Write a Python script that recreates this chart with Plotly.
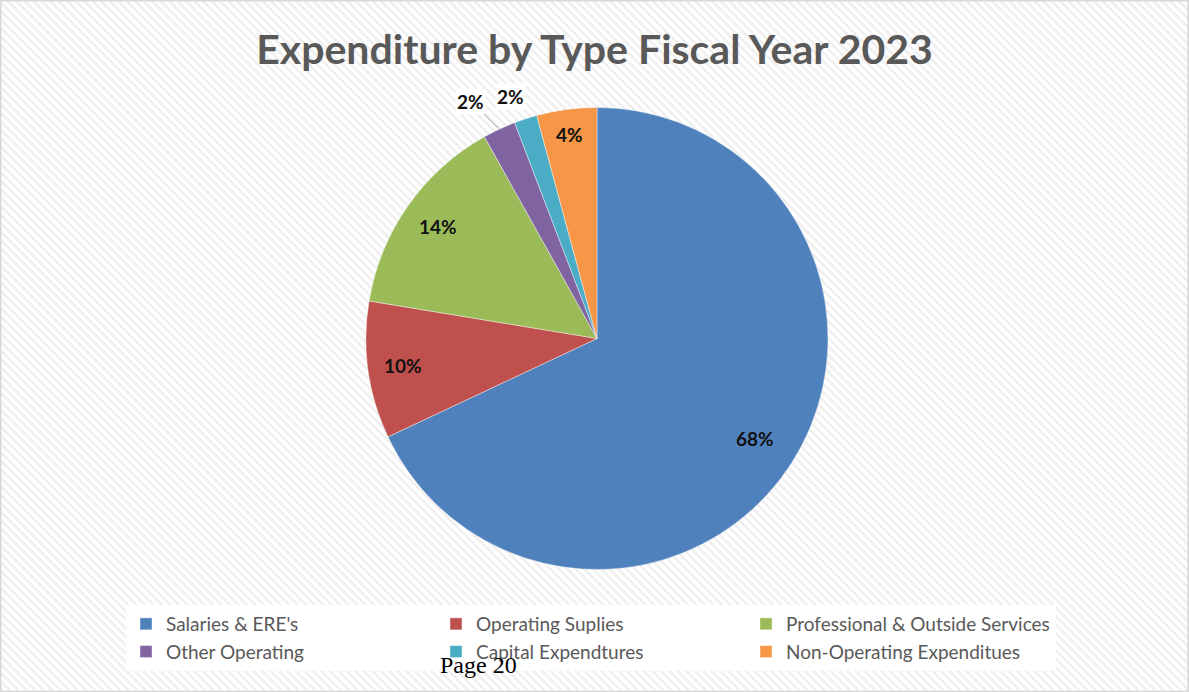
import base64, math
import plotly.graph_objects as go

# ---- data ----
categories = ["Salaries & ERE's", "Operating Suplies", "Professional & Outside Services",
              "Other Operating", "Capital Expendtures", "Non-Operating Expenditues"]
shares = [68.0, 9.6, 14.3, 2.3, 1.6, 4.2]
colors = ["#4F81BD", "#C0504D", "#9BBB59", "#8064A2", "#4BACC6", "#F79646"]
title_text = "Expenditure by Type Fiscal Year 2023"
footer_text = "Page 20"

# ---- layout geometry (pixels) ----
W, H = 1189, 692
cx, cy, R = 597, 338.5, 231
label_r = [0.81, 0.85, 0.84, 1.0, 1.0, 0.89]
outside = [False, False, False, True, True, False]

fig = go.Figure()
fig.add_trace(go.Pie(
    labels=categories, values=shares, sort=False, direction="clockwise", rotation=0,
    marker=dict(colors=colors, line=dict(color="rgba(255,255,255,0.5)", width=0.8)),
    textinfo="none", hoverinfo="label+percent",
    domain=dict(x=[(cx - R) / W, (cx + R) / W], y=[(H - cy - R) / H, (H - cy + R) / H]),
))

# labels computed from the data
total = sum(shares)
cum = 0.0
ann = []
for i, v in enumerate(shares):
    mid = (cum + v / 2) / total
    cum += v
    th = 2 * math.pi * mid
    r = R * label_r[i]
    px = cx + r * math.sin(th)
    py = cy - r * math.cos(th)
    txt = f"<b>{round(v / total * 100)}%</b>"
    a = dict(x=px / W, y=1 - py / H, xref="paper", yref="paper", text=txt,
             xanchor="center", yanchor="middle",
             font=dict(family="Lato, sans-serif", size=19, color="#111111"),
             showarrow=False)
    if outside[i]:
        a["bgcolor"] = "#ffffff"
        if i == 3:
            a.update(showarrow=True, arrowhead=0, arrowwidth=1, arrowcolor="#a6a6a6",
                     ax=-29, ay=-28, axref="pixel", ayref="pixel")
        else:
            a.update(xshift=-15, yshift=22)
    ann.append(a)

ann.append(dict(x=478 / W, y=1 - 665 / H, xref="paper", yref="paper", text=footer_text,
                xanchor="center", yanchor="middle", showarrow=False,
                font=dict(family="Liberation Serif, serif", size=24, color="#000000")))

svg = ('<svg xmlns="http://www.w3.org/2000/svg" width="%d" height="%d">'
       '<defs><pattern id="p" width="6" height="6" patternUnits="userSpaceOnUse" '
       'patternTransform="rotate(45)"><rect width="6" height="6" fill="#ffffff"/>'
       '<rect width="6" height="2.4" fill="#eeeeee"/></pattern></defs>'
       '<rect width="%d" height="%d" fill="url(#p)"/></svg>') % (W, H, W, H)
src = "data:image/svg+xml;base64," + base64.b64encode(svg.encode()).decode()

fig.update_layout(
    width=W, height=H, margin=dict(l=0, r=0, t=0, b=0),
    paper_bgcolor="#ffffff", plot_bgcolor="#ffffff",
    title=dict(text=f"<b>{title_text}</b>", x=0.5, xanchor="center", y=1 - 50 / H, yanchor="middle",
               font=dict(family="Lato, sans-serif", size=41, color="#595959")),
    showlegend=True,
    legend=dict(orientation="h", x=126 / W, xanchor="left", y=1 - 605 / H, yanchor="top",
                bgcolor="#ffffff", font=dict(family="Lato, sans-serif", size=19, color="#595959"),
                entrywidth=265, entrywidthmode="pixels", itemwidth=30, traceorder="normal"),
    annotations=ann,
    images=[dict(source=src, xref="paper", yref="paper", x=0, y=1, sizex=1, sizey=1,
                 sizing="stretch", layer="below", xanchor="left", yanchor="top")],
    shapes=[dict(type="rect", xref="paper", yref="paper", x0=0, y0=0, x1=1, y1=1,
                 line=dict(color="#d9d9d9", width=3))],
)

fig.write_html("out.html", config={"displayModeBar": False},
               post_script="document.body.style.margin='0px';")
